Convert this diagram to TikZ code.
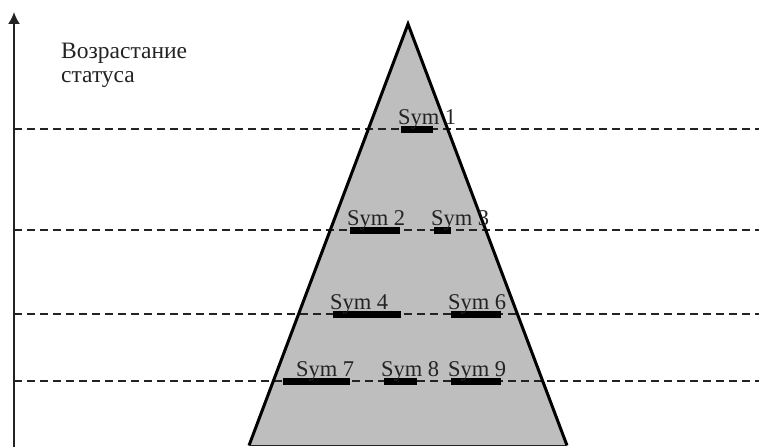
\documentclass[tikz,border=0pt]{standalone}
\usepackage{fontspec}
\setmainfont{Liberation Serif}
\usepackage{tikz}
\usetikzlibrary{arrows.meta}
\definecolor{pyr}{RGB}{190,190,190}
\definecolor{ink}{RGB}{35,35,35}
\tikzset{
  bar/.style={fill=black, inner sep=0, minimum height=7pt},
  lbl/.style={font=\fontsize{22.5}{24}\selectfont, text=ink, inner sep=0, anchor=base west},
  level/.style={ink, line width=1.2pt, dash pattern=on 8pt off 5pt}
}
\begin{document}
\begin{tikzpicture}[x=1pt,y=1pt]
\useasboundingbox (0,0) rectangle (759,447);
\fill[pyr] (249,1.5) -- (408,423) -- (567,1.5) -- cycle;
\foreach \h in {318,217,133,66}
  \draw[level] (14,\h) -- (759,\h);
\draw[line width=3pt, line join=miter] (249,1.5) -- (408,423) -- (567,1.5);
\draw[ink, line width=1.2pt] (249,1.5) -- (567,1.5);
\draw[-{Latex[length=12pt,width=12pt]}, ink, line width=1.8pt] (14,0) -- (14,435);
\node[lbl, font=\fontsize{23.5}{23.5}\selectfont, align=left, anchor=north west] (status) at (61,404) {Возрастание\\статуса};
\node[bar, minimum width=32pt] (b1) at (417,317.5) {};
\node[bar, minimum width=50pt] (b2) at (375,216.5) {};
\node[bar, minimum width=17pt] (b3) at (442.5,216.5) {};
\node[bar, minimum width=68pt] (b4) at (367,132.5) {};
\node[bar, minimum width=50pt] (b6) at (476,132.5) {};
\node[bar, minimum width=67pt] (b7) at (316.5,65.5) {};
\node[bar, minimum width=33pt] (b8) at (400.5,65.5) {};
\node[bar, minimum width=50pt] (b9) at (476,65.5) {};
\node[lbl] (s1) at ([xshift=-3pt,yshift=1pt]b1.north west) {Sym 1};
\node[lbl] (s2) at ([xshift=-3pt,yshift=1pt]b2.north west) {Sym 2};
\node[lbl] (s3) at ([xshift=-3pt,yshift=1pt]b3.north west) {Sym 3};
\node[lbl] (s4) at ([xshift=-3pt,yshift=1pt]b4.north west) {Sym 4};
\node[lbl] (s6) at ([xshift=-3pt,yshift=1pt]b6.north west) {Sym 6};
\node[lbl] (s7) at ([xshift=13pt,yshift=1pt]b7.north west) {Sym 7};
\node[lbl] (s8) at ([xshift=-3pt,yshift=1pt]b8.north west) {Sym 8};
\node[lbl] (s9) at ([xshift=-3pt,yshift=1pt]b9.north west) {Sym 9};
\end{tikzpicture}
\end{document}
